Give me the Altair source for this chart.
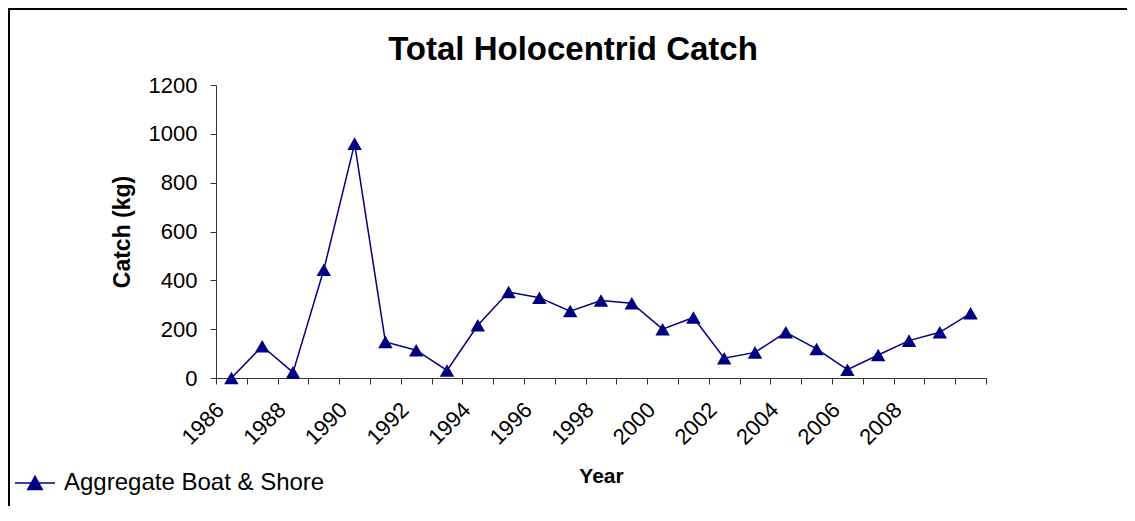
import altair as alt
import pandas as pd

years = list(range(1986, 2011))
catch_kg = [0, 130, 23, 443, 960, 148, 114, 31, 216, 352, 329, 274, 317,
            306, 200, 248, 81, 105, 187, 119, 34, 94, 153, 187, 265]
series_name = "Aggregate Boat & Shore"
y_ticks = [0, 200, 400, 600, 800, 1000, 1200]
x_tick_bounds = [y - 0.5 for y in years] + [years[-1] + 0.5]

df = pd.DataFrame({"Year": years, "Catch": catch_kg, "Series": series_name})

FONT = "Liberation Sans"
NAVY = "#000080"
AX = "#333333"

x_enc = alt.X(
    "Year:Q",
    scale=alt.Scale(domain=[1985.5, 2010.5], nice=False, zero=False),
    axis=alt.Axis(
        title="Year", values=x_tick_bounds,
        labelExpr="(datum.value + 0.5) % 2 == 0 && datum.value < 2009 ? '' + (datum.value + 0.5) : ''",
        labelAngle=-45, labelAlign="right", labelBaseline="middle",
        labelOffset=4, labelPadding=22, labelFontSize=22, labelFont=FONT,
        labelColor="black", labelOverlap=False, labelFlush=False,
        tickSize=6, tickColor=AX, domainColor=AX, grid=False,
        titleFontSize=21, titleFont=FONT, titleFontWeight="bold",
        titleColor="black", titlePadding=17,
    ),
)
y_enc = alt.Y(
    "Catch:Q",
    scale=alt.Scale(domain=[0, 1200], nice=False),
    axis=alt.Axis(
        title="Catch (kg)", values=y_ticks, format="d", tickSize=6, tickColor=AX,
        domainColor=AX, grid=False, labelFontSize=22, labelFont=FONT,
        labelColor="black", labelPadding=13,
        titleFontSize=23, titleFont=FONT, titleFontWeight="bold",
        titleColor="black", titlePadding=14,
    ),
)
color_enc = alt.Color(
    "Series:N",
    scale=alt.Scale(range=[NAVY]),
    legend=alt.Legend(
        title=None, orient="none", legendX=-202, legendY=377,
        symbolType="M-1,0H1M-0.36,0.32L0,-0.34L0.36,0.32Z",
        symbolSize=1600, symbolStrokeWidth=1.5,
        symbolFillColor=NAVY, symbolStrokeColor=NAVY,
        labelFontSize=24, labelFont=FONT, labelColor="black", labelOffset=8,
        labelLimit=500,
    ),
)

base = alt.Chart(df)
line = base.mark_line(color=NAVY, strokeWidth=1.5).encode(x=x_enc, y=y_enc, color=color_enc)
pts = base.mark_point(shape="triangle-up", filled=True, size=210, opacity=1, color=NAVY).encode(
    x=x_enc, y=y_enc, color=color_enc)

border_df = pd.DataFrame({"k": [0]})
top_border = alt.Chart(border_df).mark_rule(color="black", strokeWidth=2).encode(
    x=alt.value(-208), x2=alt.value(920), y=alt.value(-76))
left_border = alt.Chart(border_df).mark_rule(color="black", strokeWidth=2).encode(
    x=alt.value(-207), y=alt.value(-77), y2=alt.value(440))

chart = alt.layer(top_border, left_border, line, pts).properties(
    width=770, height=293,
    title=alt.TitleParams("Total Holocentrid Catch", fontSize=33, font=FONT,
                          fontWeight="bold", color="black", anchor="middle",
                          baseline="bottom", dx=-28, offset=-93),
    autosize=alt.AutoSizeParams(type="none"),
    padding={"left": 208, "top": 77, "right": 141, "bottom": 128},
).configure(background="white").configure_view(stroke=None)

chart.save("out.html", embed_options={"renderer": "svg", "actions": False})
